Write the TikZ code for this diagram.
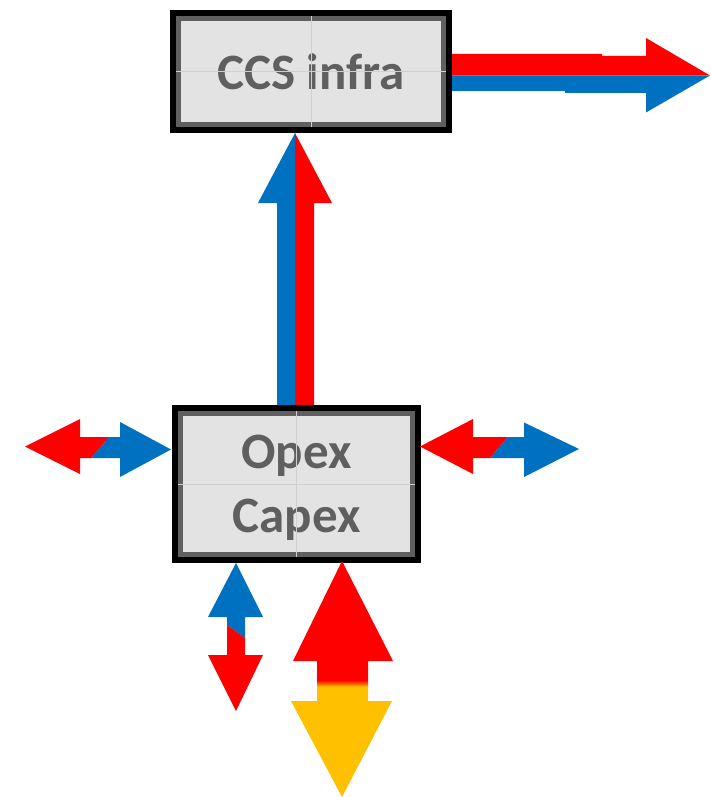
\documentclass[tikz,border=0pt]{standalone}
\usepackage{fontspec}
\setmainfont{Carlito}
\usetikzlibrary{positioning,calc}
\definecolor{flowred}{HTML}{FF0000}
\definecolor{flowblue}{HTML}{0070C0}
\definecolor{flowgold}{HTML}{FFC000}
\definecolor{boxfill}{HTML}{E3E3E3}
\definecolor{boxline}{HTML}{5F5F5F}
\definecolor{gridgray}{HTML}{CFCFCF}
\tikzset{
costbox/.style={
  rectangle,
  preaction={draw=black, line width=17pt},
  fill=boxfill,
  draw=boxline,
  line width=5pt,
  inner sep=0pt,
  outer sep=8.5pt,
  text=boxline,
  font=\fontsize{51}{64}\selectfont\bfseries,
  align=center
  },
gridline/.style={gridgray, line width=0.7pt, shorten <=6pt, shorten >=6pt}
}

\begin{document}
\begin{tikzpicture}[x=1pt,y=-1pt]

\useasboundingbox (0,0) rectangle (710,797);

\node[costbox, minimum width=265pt, minimum height=106pt] (ccs) at (311,71.5) {CCS infra};

\node[costbox, minimum width=232pt, minimum height=141pt, text depth=0pt,
      below=272pt of ccs, xshift=-14.5pt] (opex) {Opex\\Capex};

\draw[gridline] (ccs.north) -- (ccs.south);
\draw[gridline] (ccs.west) -- (ccs.east);
\draw[gridline] (opex.north) -- (opex.south);
\draw[gridline] (opex.west) -- (opex.east);

% ends of the block arrows
\coordinate (upfoot) at ([xshift=-1.5pt]opex.north);
\coordinate (uptip) at (upfoot |- ccs.south);
\coordinate (outR) at ([yshift=-4pt]ccs.east);
\coordinate (inW) at ([shift={(-1pt,34.5pt)}]opex.west);
\coordinate (inE) at ([shift={(-1pt,37.5pt)}]opex.east);
\coordinate (inSA) at ([xshift=-60.5pt]opex.south);
\coordinate (inSB) at ([shift={(45.5pt,2pt)}]opex.south);

% opex -> ccs
\fill[flowblue] (upfoot) -- ++(-18,0) -- ($(uptip)+(-18,70)$)
  -- ($(uptip)+(-37,70)$) -- (uptip) -- cycle;
\fill[flowred] (upfoot) -- ++(19,0) -- ($(uptip)+(19,70)$)
  -- ($(uptip)+(37,70)$) -- (uptip) -- cycle;

% ccs -> out
\begin{scope}[shift={(outR)}]
\fill[flowred] (0,0) -- (0,-21.5) -- (150,-21.5) -- (150,-19.5) -- (194,-19.5)
  -- (194,-37.5) -- (258,0) -- cycle;
\fill[flowblue] (0,0) -- (0,15.5) -- (113,15.5) -- (113,17.5) -- (194,17.5)
  -- (194,37) -- (258,0) -- cycle;
\end{scope}

% west
\begin{scope}[shift={(inW)}]
\fill[flowblue] (0,0) -- (-51,-27.5) -- (-51,-12.5) -- (-62,-12.5) -- (-80,8.5)
  -- (-51,8.5) -- (-51,27.5) -- cycle;
\fill[flowred] (-62,-12.5) -- (-80,8.5) -- (-91,8.5) -- (-91,24.5) -- (-146,-3)
  -- (-91,-30.5) -- (-91,-12.5) -- cycle;
\end{scope}

% east
\begin{scope}[shift={(inE)}]
\fill[flowred] (0,0) -- (53,-27.5) -- (53,-9.5) -- (88,-9.5) -- (70,11.5)
  -- (53,11.5) -- (53,27.5) -- cycle;
\fill[flowblue] (88,-9.5) -- (104,-9.5) -- (104,-24) -- (159,2.5) -- (104,30.5)
  -- (104,11.5) -- (70,11.5) -- cycle;
\end{scope}

% south, small
\begin{scope}[shift={(inSA)}]
\fill[flowblue] (0,0) -- (27,54) -- (9,54) -- (9,75) -- (-9,62) -- (-9,54)
  -- (-28,54) -- cycle;
\fill[flowred] (-9,62) -- (9,75) -- (9,92) -- (27,92) -- (0,148) -- (-28,92)
  -- (-9,92) -- cycle;
\end{scope}

% south, large
\begin{scope}[shift={(inSB)}]
\fill[flowred] (0,0) -- (51,100) -- (26,100) -- (26,119.5) -- (-25,119.5)
  -- (-25,100) -- (-49,100) -- cycle;
\shade[top color=flowred, bottom color=flowgold] (-25,119) rectangle (26,126);
\fill[flowgold] (-25,125.5) -- (26,125.5) -- (26,140) -- (50,140) -- (0,236)
  -- (-51,140) -- (-25,140) -- cycle;
\end{scope}

\end{tikzpicture}
\end{document}
